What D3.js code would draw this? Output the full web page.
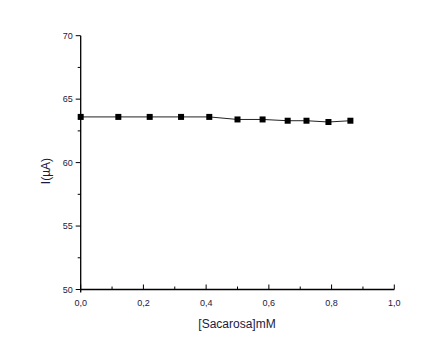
<!DOCTYPE html>
<html>
<head>
<meta charset="utf-8">
<script src="https://cdn.jsdelivr.net/npm/d3@7"></script>
<style>
  body { margin: 0; background: #fff; }
  text { font-family: 'Liberation Sans', Arial, sans-serif; }
</style>
</head>
<body>
<div id="chart"></div>
<script>
// sucrose concentration vs current
const concentration = [0.0, 0.12, 0.22, 0.32, 0.41, 0.50, 0.58, 0.66, 0.72, 0.79, 0.86];
const current = [63.6, 63.6, 63.6, 63.6, 63.6, 63.4, 63.4, 63.3, 63.3, 63.2, 63.3];
const xTicks = [0, 0.2, 0.4, 0.6, 0.8, 1.0];
const yTicks = [50, 55, 60, 65, 70];

const width = 438;
const height = 358;

const svg = d3
  .select('#chart')
  .append('svg')
  .attr('width', width)
  .attr('height', height);

const x = d3.scaleLinear().domain([0, 1]).range([80.7, 394.3]);
const y = d3.scaleLinear().domain([50, 70]).range([289.5, 35.7]);

const fmt = (d) => d3.format('.1f')(d).replace('.', ',');

// x axis - ticks point up into the plot
const xAxis = svg
  .append('g')
  .attr('transform', 'translate(0,' + y(50) + ')');
xAxis
  .append('line')
  .attr('x1', x(0))
  .attr('x2', x(1))
  .attr('stroke', '#000')
  .attr('stroke-width', 1.3);
xAxis
  .selectAll('.minor')
  .data(d3.range(0.1, 1, 0.2))
  .enter()
  .append('line')
  .attr('x1', (d) => x(d))
  .attr('x2', (d) => x(d))
  .attr('y1', 0)
  .attr('y2', -3)
  .attr('stroke', '#000');
xAxis
  .selectAll('.major')
  .data(xTicks)
  .enter()
  .append('line')
  .attr('x1', (d) => x(d))
  .attr('x2', (d) => x(d))
  .attr('y1', 0)
  .attr('y2', -5)
  .attr('stroke', '#000');
xAxis
  .selectAll('.label')
  .data(xTicks)
  .enter()
  .append('text')
  .attr('x', (d) => x(d))
  .attr('y', 16)
  .attr('text-anchor', 'middle')
  .attr('font-size', '9px')
  .attr('fill', '#1a1a40')
  .text(fmt);

// y axis - ticks point left
const yAxis = svg.append('g').attr('transform', 'translate(' + x(0) + ',0)');
yAxis
  .append('line')
  .attr('y1', y(50) + 3)
  .attr('y2', y(70))
  .attr('stroke', '#000')
  .attr('stroke-width', 1.3);
yAxis
  .selectAll('.minor')
  .data([52.5, 57.5, 62.5, 67.5])
  .enter()
  .append('line')
  .attr('y1', (d) => y(d))
  .attr('y2', (d) => y(d))
  .attr('x1', 0)
  .attr('x2', -3)
  .attr('stroke', '#000');
yAxis
  .selectAll('.major')
  .data(yTicks)
  .enter()
  .append('line')
  .attr('y1', (d) => y(d))
  .attr('y2', (d) => y(d))
  .attr('x1', 0)
  .attr('x2', -5)
  .attr('stroke', '#000');
yAxis
  .selectAll('.label')
  .data(yTicks)
  .enter()
  .append('text')
  .attr('x', -8)
  .attr('y', (d) => y(d) + 3)
  .attr('text-anchor', 'end')
  .attr('font-size', '9px')
  .attr('fill', '#1a1a40')
  .text((d) => d);

// axis titles
svg
  .append('text')
  .attr('x', 237)
  .attr('y', 328)
  .attr('text-anchor', 'middle')
  .attr('font-size', '12px')
  .attr('fill', '#1a1a40')
  .text('[Sacarosa]mM');
svg
  .append('text')
  .attr('transform', 'translate(50,171) rotate(-90)')
  .attr('text-anchor', 'middle')
  .attr('font-size', '12px')
  .attr('fill', '#1a1a40')
  .text('I(\u00b5A)');

// line + markers
const data = concentration.map((c, i) => ({ c: c, v: current[i] }));
svg
  .append('path')
  .datum(data)
  .attr('fill', 'none')
  .attr('stroke', '#222')
  .attr('stroke-width', 1)
  .attr('d', d3.line().x((d) => x(d.c)).y((d) => y(d.v)));
svg
  .selectAll('.pt')
  .data(data)
  .enter()
  .append('rect')
  .attr('x', (d) => x(d.c) - 3)
  .attr('y', (d) => y(d.v) - 3)
  .attr('width', 6)
  .attr('height', 6)
  .attr('fill', '#000');
</script>
</body>
</html>
